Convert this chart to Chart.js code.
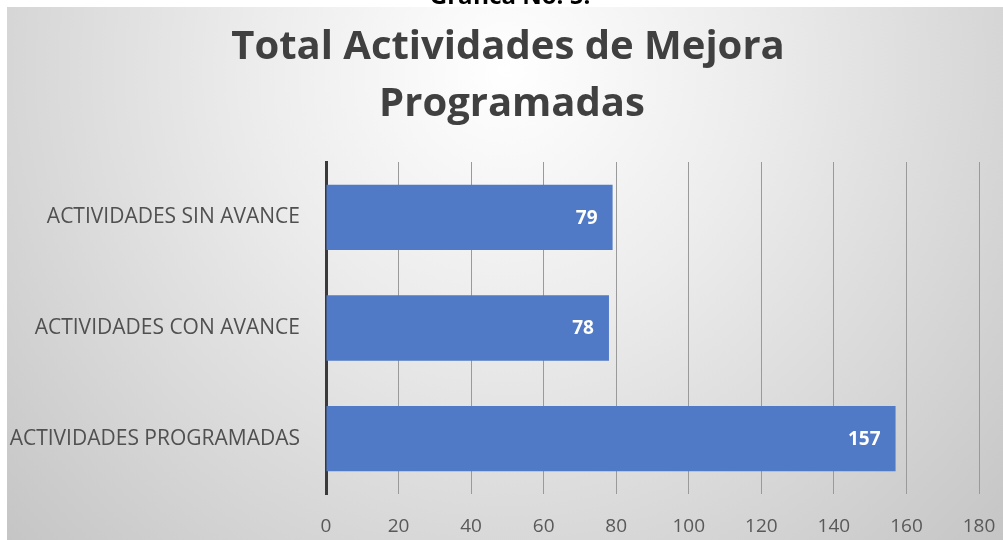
<!DOCTYPE html>
<html>
<head>
<meta charset="utf-8">
<script src="https://cdn.jsdelivr.net/npm/chart.js@4"></script>
<style>
html,body{margin:0;padding:0;background:#fff;}
#wrap{width:1003px;height:540px;position:relative;}
</style>
</head>
<body>
<div id="wrap"><canvas id="c" width="1003" height="540"></canvas></div>
<script>
const categories = ['ACTIVIDADES SIN AVANCE', 'ACTIVIDADES CON AVANCE', 'ACTIVIDADES PROGRAMADAS'];
const values = [79, 78, 157];
const titleLines = ['Total Actividades de Mejora', 'Programadas'];
const captionText = 'Gráfica No. 5.';
const xMin = 0, xMax = 180, xStep = 20;

const bgPlugin = {
  id: 'bg',
  beforeDraw(chart) {
    const ctx = chart.ctx;
    const w = chart.width, h = chart.height;
    ctx.save();
    ctx.fillStyle = '#ffffff';
    ctx.fillRect(0, 0, w, h);
    const g = ctx.createRadialGradient(505, 70, 0, 505, 70, 720);
    g.addColorStop(0, '#ffffff');
    g.addColorStop(0.35, '#ececec');
    g.addColorStop(1, '#c2c2c2');
    ctx.fillStyle = g;
    ctx.fillRect(7, 7, w - 7, h - 7);
    ctx.restore();
  },
  afterDraw(chart) {
    const ctx = chart.ctx;
    ctx.save();
    ctx.fillStyle = '#000000';
    ctx.font = 'bold 24px "Open Sans", sans-serif';
    ctx.textAlign = 'center';
    ctx.textBaseline = 'alphabetic';
    ctx.fillText(captionText, 510, 4);
    ctx.fillStyle = '#404040';
    ctx.font = 'bold 40px "Open Sans", sans-serif';
    ctx.textBaseline = 'middle';
    ctx.fillText(titleLines[0], 508, 48);
    ctx.fillText(titleLines[1], 512, 105);
    ctx.restore();
  }
};

const labelPlugin = {
  id: 'vlabels',
  afterDatasetsDraw(chart) {
    const ctx = chart.ctx;
    const meta = chart.getDatasetMeta(0);
    ctx.save();
    ctx.fillStyle = '#ffffff';
    ctx.font = 'bold 19px "Open Sans", sans-serif';
    ctx.textAlign = 'right';
    ctx.textBaseline = 'middle';
    meta.data.forEach((el, i) => {
      ctx.fillText(String(values[i]), el.x - 15, el.y + 1);
    });
    ctx.restore();
  }
};

new Chart(document.getElementById('c'), {
  type: 'bar',
  data: {
    labels: categories,
    datasets: [{
      data: values,
      backgroundColor: '#5079c6',
      borderWidth: 0,
      categoryPercentage: 1,
      barPercentage: 0.59
    }]
  },
  options: {
    indexAxis: 'y',
    responsive: false,
    animation: false,
    devicePixelRatio: 1,
    layout: { padding: { left: 7, top: 162, right: 24, bottom: 0 } },
    plugins: {
      legend: { display: false },
      tooltip: { enabled: false },
      title: { display: false }
    },
    scales: {
      x: {
        min: xMin, max: xMax,
        ticks: { stepSize: xStep, color: '#595959', font: { family: '"Open Sans", sans-serif', size: 19 }, padding: 21 },
        grid: { color: '#9a9a9a', lineWidth: 1, drawTicks: false },
        border: { display: false },
        afterFit(s) { s.height = 46; s.paddingLeft = 0; s.paddingRight = 0; }
      },
      y: {
        ticks: { color: '#505050', font: { family: '"Open Sans", sans-serif', size: 21 }, padding: 26 },
        grid: { display: false, drawTicks: false },
        border: { display: true, color: '#3a3a3a', width: 3 },
        afterFit(s) { s.width = 319; s.paddingTop = 0; s.paddingBottom = 0; }
      }
    }
  },
  plugins: [bgPlugin, labelPlugin]
});
</script>
</body>
</html>
